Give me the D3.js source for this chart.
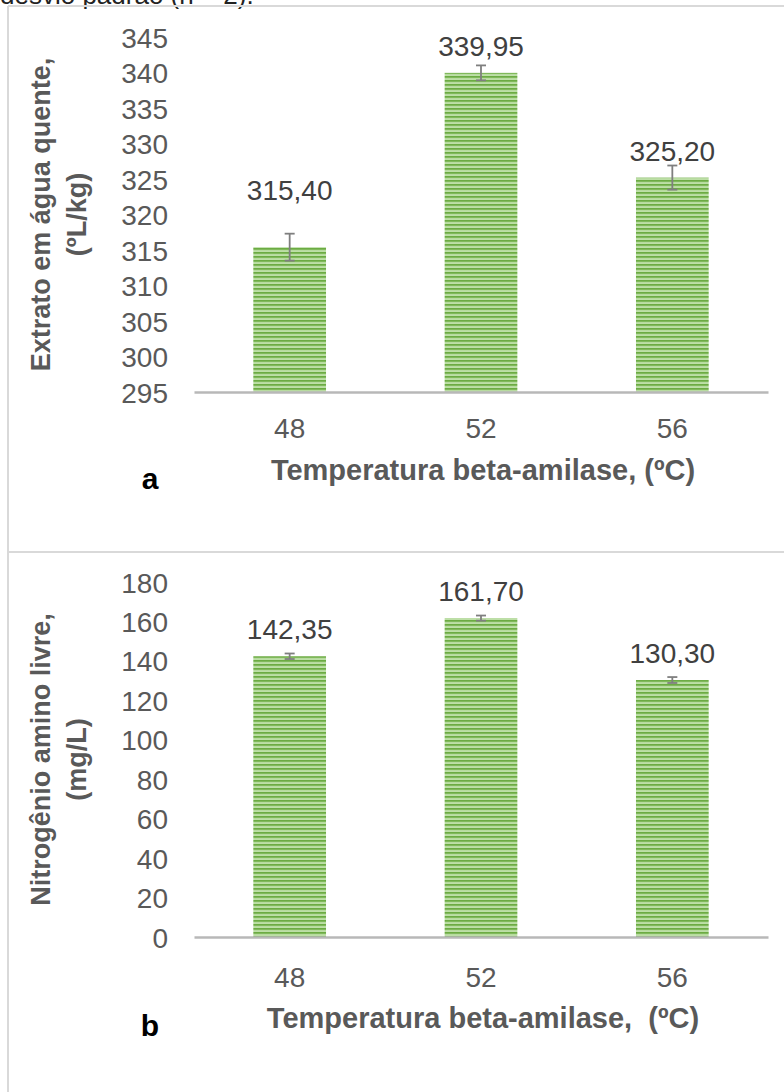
<!DOCTYPE html>
<html>
<head>
<meta charset="utf-8">
<script src="https://cdn.jsdelivr.net/npm/d3@7"></script>
<style>
  html, body { margin: 0; padding: 0; background: #ffffff; }
  svg { display: block; }
  text { font-family: "Liberation Sans", Arial, sans-serif; }
</style>
</head>
<body>
<svg id="chart" width="784" height="1092"></svg>
<script>
// Temperature of the beta-amylase rest (ºC)
const categories = ["48", "52", "56"];

// Panel a: hot water extract (ºL/kg), mean and standard deviation
const extratoValues = [315.40, 339.95, 325.20];
const extratoErrors = [1.9, 1.05, 1.7];
const extratoTicks = [295, 300, 305, 310, 315, 320, 325, 330, 335, 340, 345];

// Panel b: free amino nitrogen (mg/L), mean and standard deviation
const nitrogenioValues = [142.35, 161.70, 130.30];
const nitrogenioErrors = [1.4, 1.3, 1.5];
const nitrogenioTicks = [0, 20, 40, 60, 80, 100, 120, 140, 160, 180];

const svg = d3.select("#chart");
const fmt = v => d3.format(".2f")(v).replace(".", ",");

// striped green fill for the bars
const defs = svg.append("defs");
const pat = defs.append("pattern")
  .attr("id", "stripes")
  .attr("patternUnits", "userSpaceOnUse")
  .attr("width", 8).attr("height", 4);
pat.append("rect").attr("width", 8).attr("height", 4).attr("fill", "#9fcf80");
pat.append("rect").attr("y", 0).attr("width", 8).attr("height", 1.6).attr("fill", "#6cab43");
pat.append("rect").attr("y", 2.6).attr("width", 8).attr("height", 0.9).attr("fill", "#dcefcf");

// caption fragment cut at the top edge
svg.append("text")
  .attr("x", 0).attr("y", 4)
  .attr("font-size", 26).attr("fill", "#222")
  .text("desvio padrão (n = 2).");

// panel frame lines
const frame = svg.append("g").attr("stroke", "#d9d9d9").attr("stroke-width", 2).attr("fill", "none");
frame.append("line").attr("x1", 8).attr("x2", 784).attr("y1", 6).attr("y2", 6);
frame.append("line").attr("x1", 8).attr("x2", 8).attr("y1", 6).attr("y2", 1092);
frame.append("line").attr("x1", 8).attr("x2", 784).attr("y1", 552).attr("y2", 552);

function panel(cfg) {
  const g = svg.append("g");
  const x = d3.scaleBand().domain(categories).range([194, 768]).paddingInner(0.62).paddingOuter(0.31);
  const y = d3.scaleLinear().domain(cfg.domain).range([cfg.bottom, cfg.top]);

  // y tick labels
  const yAxis = d3.axisLeft(y).tickValues(cfg.ticks).tickSize(0).tickPadding(0);
  const ya = g.append("g").attr("transform", "translate(168,0)").call(yAxis);
  ya.select(".domain").remove();
  ya.selectAll("text")
    .attr("font-size", 28).attr("fill", "#595959")
    .attr("font-family", "Liberation Sans, Arial, sans-serif")
    .attr("dy", "0.36em");

  // bars
  g.selectAll("rect.bar").data(cfg.values).join("rect")
    .attr("class", "bar")
    .attr("x", (d, i) => x(categories[i]))
    .attr("width", x.bandwidth())
    .attr("y", d => y(d))
    .attr("height", d => y(cfg.domain[0]) - y(d))
    .attr("fill", "url(#stripes)");

  // category axis
  const xAxis = d3.axisBottom(x).tickSize(0).tickPadding(0);
  const xa = g.append("g").attr("transform", `translate(0,${cfg.bottom})`).call(xAxis);
  xa.select(".domain").attr("stroke", "#b8b8b8").attr("stroke-width", 2.5);
  xa.selectAll("text")
    .attr("font-size", 28).attr("fill", "#595959")
    .attr("font-family", "Liberation Sans, Arial, sans-serif")
    .attr("dy", null)
    .attr("y", cfg.catLabelY - cfg.bottom + 10);

  // error bars
  const eb = g.append("g").attr("stroke", "#7f7f7f").attr("stroke-width", 1.8);
  cfg.values.forEach((v, i) => {
    const cx = x(categories[i]) + x.bandwidth() / 2;
    const e = cfg.errors[i];
    eb.append("line").attr("x1", cx).attr("x2", cx).attr("y1", y(v + e)).attr("y2", y(v - e));
    eb.append("line").attr("x1", cx - 5).attr("x2", cx + 5).attr("y1", y(v + e)).attr("y2", y(v + e));
    eb.append("line").attr("x1", cx - 5).attr("x2", cx + 5).attr("y1", y(v - e)).attr("y2", y(v - e));
  });

  // value labels
  g.selectAll("text.val").data(cfg.values).join("text")
    .attr("class", "val")
    .attr("x", (d, i) => x(categories[i]) + x.bandwidth() / 2)
    .attr("y", (d, i) => y(d) - 17 - (cfg.labelLift[i] || 0))
    .attr("text-anchor", "middle")
    .attr("font-size", 28).attr("fill", "#404040")
    .text(d => fmt(d));

  // axis titles
  g.append("text")
    .attr("transform", `translate(50,${(cfg.top + cfg.bottom) / 2}) rotate(-90)`)
    .attr("text-anchor", "middle")
    .attr("font-size", 27).attr("font-weight", "bold").attr("fill", "#595959")
    .text(cfg.yTitle[0]);
  g.append("text")
    .attr("transform", `translate(86,${(cfg.top + cfg.bottom) / 2}) rotate(-90)`)
    .attr("text-anchor", "middle")
    .attr("font-size", 27).attr("font-weight", "bold").attr("fill", "#595959")
    .text(cfg.yTitle[1]);

  g.append("text")
    .attr("x", 483).attr("y", cfg.xTitleY)
    .attr("text-anchor", "middle")
    .attr("font-size", 29).attr("font-weight", "bold").attr("fill", "#595959")
    .style("white-space", "pre")
    .text(cfg.xTitle);

  g.append("text")
    .attr("x", 150).attr("y", cfg.letterY)
    .attr("text-anchor", "middle")
    .attr("font-size", 30).attr("font-weight", "bold").attr("fill", "#000")
    .text(cfg.letter);
}

panel({
  values: extratoValues, errors: extratoErrors, ticks: extratoTicks,
  domain: [295, 345], top: 37, bottom: 392,
  catLabelY: 428, xTitleY: 480, letterY: 489,
  labelLift: [30, 0, 0],
  yTitle: ["Extrato em água quente,", "(ºL/kg)"],
  xTitle: "Temperatura beta-amilase, (ºC)", letter: "a"
});

panel({
  values: nitrogenioValues, errors: nitrogenioErrors, ticks: nitrogenioTicks,
  domain: [0, 180], top: 582, bottom: 937,
  catLabelY: 977, xTitleY: 1028, letterY: 1036,
  labelLift: [0, 0, 0],
  yTitle: ["Nitrogênio amino livre,", "(mg/L)"],
  xTitle: "Temperatura beta-amilase,  (ºC)", letter: "b"
});
</script>
</body>
</html>
